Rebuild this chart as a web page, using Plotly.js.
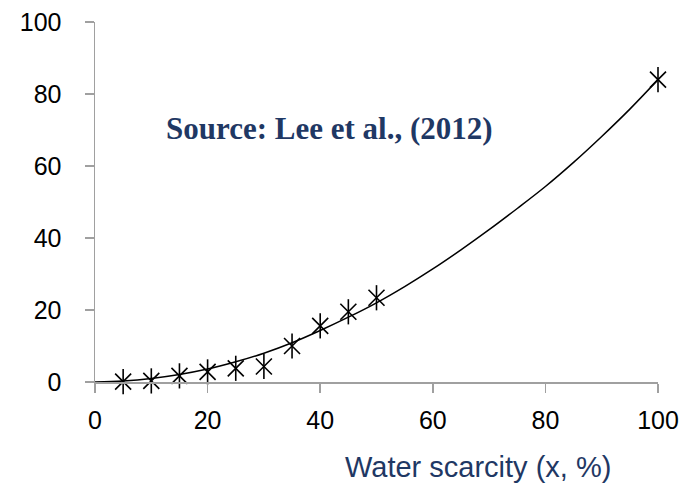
<!DOCTYPE html>
<html>
<head>
<meta charset="utf-8">
<script src="https://cdn.plot.ly/plotly-3.0.1.min.js"></script>
<style>html,body{margin:0;padding:0;background:#fff}#chart{width:696px;height:484px}</style>
</head>
<body>
<div id="chart"></div>
<script>
// Observed points (water scarcity %, value)
const pointX = [5, 10, 15, 20, 25, 30, 35, 40, 45, 50, 100];
const pointY = [0.1, 0.3, 1.7, 2.8, 3.8, 4.3, 10.0, 15.6, 19.5, 23.4, 84.0];
// Fitted curve
const curveX = [0, 5, 10, 15, 20, 25, 30, 35, 40, 45, 50, 55, 60, 65, 70, 75, 80, 85, 90, 95, 100];
const curveY = [0, 0.3, 1.0, 2.1, 3.6, 5.6, 8.0, 10.9, 14.3, 18.0, 22.0, 26.5, 31.4, 36.7, 42.3, 48.2, 54.3, 61.0, 68.2, 75.8, 84.0];
const xTicks = [0, 20, 40, 60, 80, 100];
const yTicks = [0, 20, 40, 60, 80, 100];
const xTitle = "Water scarcity (x, %)";
const sourceText = "Source: Lee et al., (2012)";

const traces = [
  {x: curveX, y: curveY, type: "scatter", mode: "lines", line: {color: "#000", width: 1.5, shape: "spline"}, hoverinfo: "skip", cliponaxis: false},
  {x: pointX, y: pointY, type: "scatter", mode: "markers", marker: {symbol: "x-thin-open", size: 16, color: "#000", line: {color: "#000", width: 1.6}}, cliponaxis: false},
  {x: pointX, y: pointY, type: "scatter", mode: "markers", marker: {symbol: "line-ns-open", size: 18, color: "#000", line: {color: "#000", width: 1.6}}, cliponaxis: false}
];

const axisCommon = {
  showline: true, linecolor: "#a0a0a0", linewidth: 1.5,
  ticks: "outside", ticklen: 9, tickcolor: "#a0a0a0", tickwidth: 1.5,
  showgrid: false, zeroline: false,
  tickfont: {family: "Liberation Sans, Arial, sans-serif", size: 25, color: "#000"},
  fixedrange: true
};

const layout = {
  width: 696, height: 484,
  margin: {l: 95, r: 38, t: 22, b: 102},
  paper_bgcolor: "#fff", plot_bgcolor: "#fff",
  showlegend: false,
  xaxis: Object.assign({}, axisCommon, {range: [0, 100], tickvals: xTicks, ticktext: xTicks.map(String), ticklabelstandoff: 6}),
  yaxis: Object.assign({}, axisCommon, {range: [0, 100], tickvals: yTicks, ticktext: yTicks.map(String), ticklabelstandoff: 18}),
  annotations: [
    {text: xTitle, xref: "paper", yref: "paper", x: 0.680, y: -0.236, xanchor: "center", yanchor: "middle", showarrow: false,
     font: {family: "Liberation Sans, Arial, sans-serif", size: 29, color: "#1f3864"}},
    {text: sourceText, xref: "paper", yref: "paper", x: 0.417, y: 0.703, xanchor: "center", yanchor: "middle", showarrow: false,
     font: {family: "Liberation Serif, Times New Roman, serif", size: 31, color: "#1f3864", weight: "bold"}}
  ]
};

Plotly.newPlot("chart", traces, layout, {displayModeBar: false, staticPlot: true});
</script>
</body>
</html>
